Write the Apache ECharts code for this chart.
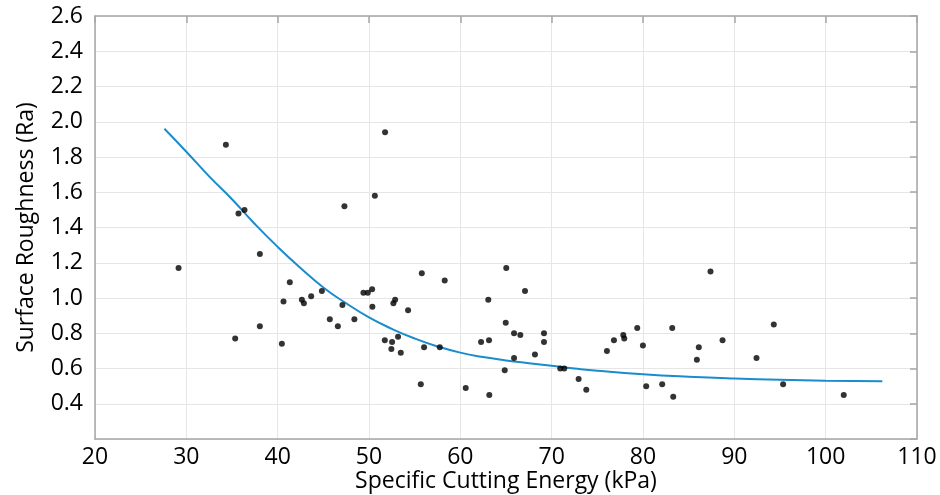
<!DOCTYPE html>
<html>
<head>
   <meta charset="utf-8">
   <title>Surface Roughness vs Specific Cutting Energy</title>
   <script src="https://cdn.jsdelivr.net/npm/echarts@6/dist/echarts.min.js"></script>
   <style>
      html, body { margin: 0; padding: 0; background: #fff; }
      #chart { width: 940px; height: 495px; }
   </style>
</head>
<body>
<div id="chart"></div>
<script>
    // measured points (kPa, Ra)
    var energy = [29.15, 34.33, 35.35, 35.71, 36.37, 38.05, 38.05, 40.46, 40.64, 41.33,
        42.65, 42.87, 43.67, 44.84, 45.71, 46.59, 47.09, 47.31, 48.40, 49.39,
        49.87, 50.34, 50.37, 50.64, 51.73, 51.76, 52.45, 52.53, 52.67, 52.86,
        53.18, 53.48, 54.28, 55.67, 55.78, 56.03, 57.75, 58.29, 60.59, 62.27,
        63.06, 63.14, 63.17, 64.86, 64.97, 65.03, 65.88, 65.88, 66.57, 67.08,
        68.17, 69.16, 69.16, 70.94, 71.38, 72.95, 73.79, 76.05, 76.82, 77.84,
        77.95, 79.37, 79.99, 80.35, 82.10, 83.20, 83.31, 85.90, 86.11, 87.39,
        88.71, 92.43, 94.32, 95.34, 101.98];
    var roughness = [1.17, 1.87, 0.77, 1.48, 1.50, 1.25, 0.84, 0.74, 0.98, 1.09,
        0.99, 0.97, 1.01, 1.04, 0.88, 0.84, 0.96, 1.52, 0.88, 1.03,
        1.03, 1.05, 0.95, 1.58, 0.76, 1.94, 0.71, 0.75, 0.97, 0.99,
        0.78, 0.69, 0.93, 0.51, 1.14, 0.72, 0.72, 1.10, 0.49, 0.75,
        0.99, 0.76, 0.45, 0.59, 0.86, 1.17, 0.80, 0.66, 0.79, 1.04,
        0.68, 0.80, 0.75, 0.60, 0.60, 0.54, 0.48, 0.70, 0.76, 0.79,
        0.77, 0.83, 0.73, 0.50, 0.51, 0.83, 0.44, 0.65, 0.72, 1.15,
        0.76, 0.66, 0.85, 0.51, 0.45];

    // fitted curve
    var fitX = [27.6, 30, 32.5, 35, 37.5, 40, 42.5, 45, 47.5, 50, 52.5, 55, 57.5, 60,
        62.5, 65, 67.5, 70, 72.5, 75, 80, 85, 90, 95, 100, 106.2];
    var fitY = [1.96, 1.83, 1.69, 1.56, 1.42, 1.29, 1.17, 1.06, 0.97, 0.89, 0.825, 0.77, 0.725, 0.69,
        0.665, 0.646, 0.63, 0.615, 0.60, 0.587, 0.567, 0.553, 0.543, 0.536, 0.531, 0.527];

    var xTicks = [20, 30, 40, 50, 60, 70, 80, 90, 100, 110];
    var yTicks = [0.2, 0.4, 0.6, 0.8, 1.0, 1.2, 1.4, 1.6, 1.8, 2.0, 2.2, 2.4, 2.6];

    var font = "'Open Sans', 'Noto Sans', sans-serif";
    var frame = {show: true, onZero: false, lineStyle: {color: '#a6a6a6', width: 1.5}};
    var grid = {show: true, lineStyle: {color: '#e6e6e6', width: 1}};

    var points = energy.map(function (e, i) { return [e, roughness[i]]; });
    var curve = fitX.map(function (e, i) { return [e, fitY[i]]; });

    var option = {
        animation: false,
        backgroundColor: '#fff',
        grid: {left: 95, right: 23, top: 16, bottom: 56, containLabel: false, outerBoundsMode: 'none'},
        xAxis: [{
            type: 'value', position: 'bottom',
            min: xTicks[0], max: xTicks[xTicks.length - 1], interval: 10,
            name: 'Specific Cutting Energy (kPa)', nameLocation: 'middle', nameGap: 31,
            nameMoveOverlap: false,
            nameTextStyle: {fontFamily: font, fontSize: 23, color: '#000'},
            axisLine: frame, axisTick: {show: false},
            axisLabel: {fontFamily: font, fontSize: 23, color: '#000', margin: 7},
            splitLine: grid
        }, {
            type: 'value', position: 'top',
            min: xTicks[0], max: xTicks[xTicks.length - 1], interval: 10,
            axisLine: frame,
            axisTick: {show: true, inside: true, length: 7, lineStyle: {color: '#a6a6a6', width: 1.5}},
            axisLabel: {show: false}, splitLine: {show: false}
        }],
        yAxis: [{
            type: 'value', position: 'left',
            min: yTicks[0], max: yTicks[yTicks.length - 1], interval: 0.2,
            name: 'Surface Roughness (Ra)', nameLocation: 'middle', nameGap: 57,
            nameMoveOverlap: false,
            nameTextStyle: {fontFamily: font, fontSize: 23, color: '#000'},
            axisLine: frame, axisTick: {show: false},
            axisLabel: {
                fontFamily: font, fontSize: 23, color: '#000', margin: 12,
                formatter: function (v) { return Math.abs(v - 0.2) < 1e-6 ? '' : v.toFixed(1); }
            },
            splitLine: grid
        }, {
            type: 'value', position: 'right',
            min: yTicks[0], max: yTicks[yTicks.length - 1], interval: 0.2,
            axisLine: frame,
            axisTick: {show: true, inside: true, length: 7, lineStyle: {color: '#a6a6a6', width: 1.5}},
            axisLabel: {show: false}, splitLine: {show: false}
        }],
        series: [{
            type: 'line',
            data: curve,
            smooth: 0.5,
            showSymbol: false,
            lineStyle: {color: '#1a8ccd', width: 2},
            z: 2
        }, {
            type: 'scatter',
            data: points,
            symbolSize: 6,
            itemStyle: {color: '#000'},
            z: 3
        }]
    };

    var chart = echarts.init(document.getElementById('chart'));
    chart.setOption(option);
</script>
</body>
</html>
